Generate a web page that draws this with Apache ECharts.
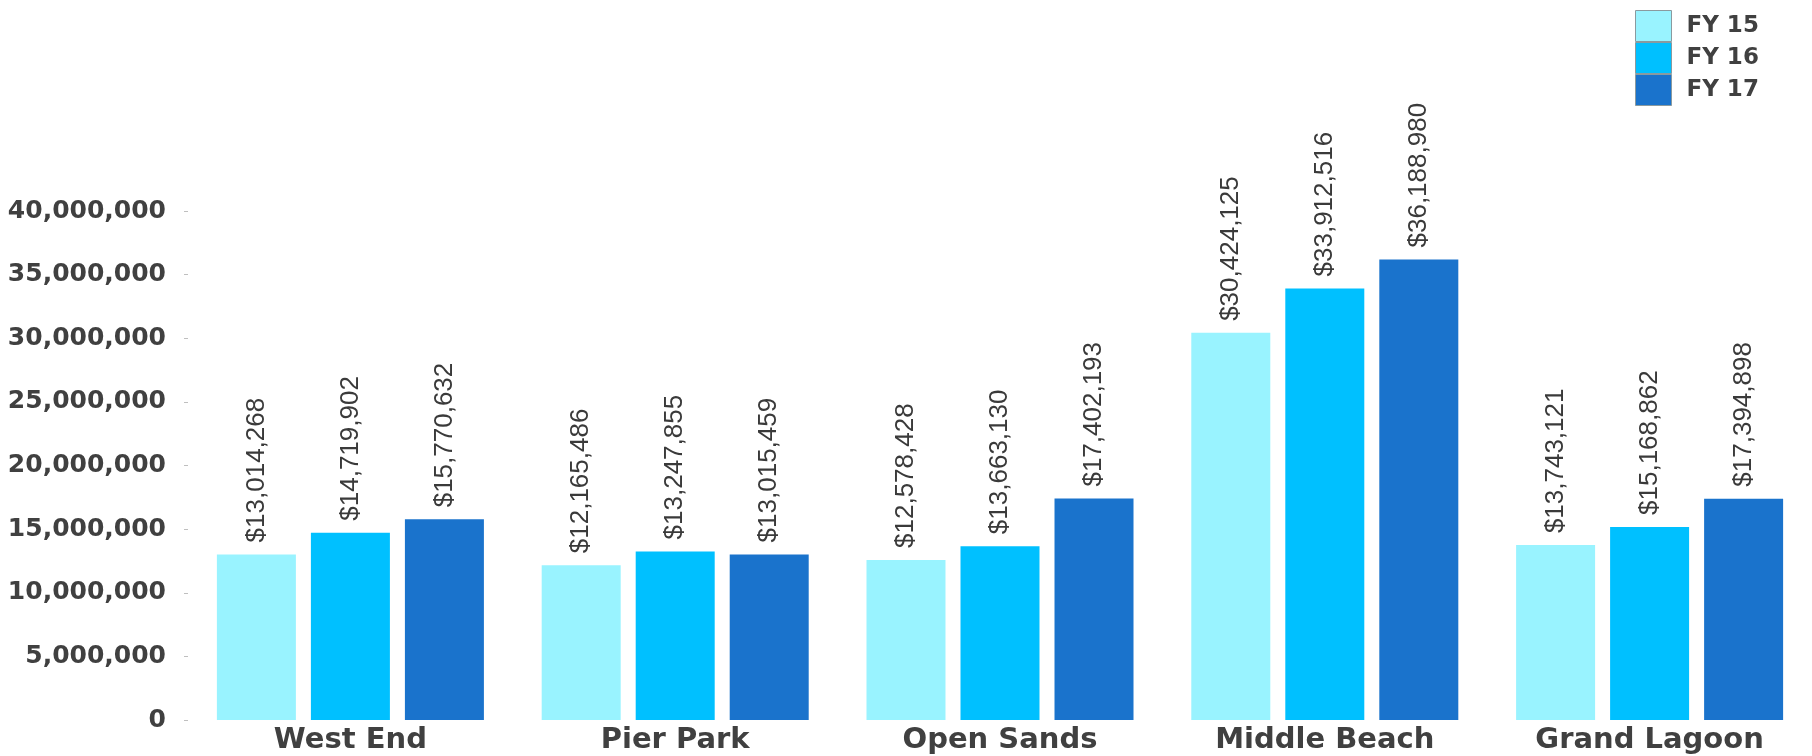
<!DOCTYPE html>
<html>
<head>
<meta charset="utf-8">
<script src="https://cdn.jsdelivr.net/npm/echarts@6/dist/echarts.min.js"></script>
<style>
html,body{margin:0;padding:0;background:#fff;}
#chart{width:1812px;height:756px;}
</style>
</head>
<body>
<div id="chart"></div>
<script>
const categories = ['West End', 'Pier Park', 'Open Sands', 'Middle Beach', 'Grand Lagoon'];
const seriesNames = ['FY 15', 'FY 16', 'FY 17'];
const fy15 = [13014268, 12165486, 12578428, 30424125, 13743121];
const fy16 = [14719902, 13247855, 13663130, 33912516, 15168862];
const fy17 = [15770632, 13015459, 17402193, 36188980, 17394898];
const colors = ['#99F3FF', '#00C0FF', '#1A73CC'];
const yTicks = { min: 0, max: 40000000, interval: 5000000 };

const chart = echarts.init(document.getElementById('chart'));
const fmt = v => Number(v).toLocaleString('en-US');

function mkSeries(name, data, color) {
  return {
    name: name,
    type: 'bar',
    data: data,
    barWidth: 79,
    barGap: '19%',
    itemStyle: { color: color },
    label: {
      show: true,
      position: 'top',
      rotate: 90,
      align: 'left',
      verticalAlign: 'middle',
      distance: 12,
      fontFamily: '"Liberation Sans", Arial, sans-serif',
      fontSize: 26,
      color: '#3a3a3a',
      formatter: p => '$' + fmt(p.value)
    }
  };
}

chart.setOption({
  backgroundColor: '#ffffff',
  animation: false,
  color: colors,
  legend: {
    orient: 'vertical',
    left: 1630,
    top: 5,
    itemWidth: 36,
    itemHeight: 31,
    itemGap: 0,
    icon: 'rect',
    itemStyle: { borderColor: '#8a9a9f', borderWidth: 1 },
    textStyle: {
      fontFamily: 'DejaVu Sans, sans-serif',
      fontWeight: 'bold',
      fontSize: 23,
      color: '#404040',
      padding: [0, 0, 0, 10]
    },
    data: seriesNames
  },
  grid: { left: 188, width: 1650, top: 211, bottom: 36, containLabel: false },
  xAxis: {
    type: 'category',
    data: categories,
    axisLine: { show: false },
    axisTick: { show: false },
    axisLabel: {
      margin: 6,
      fontFamily: 'DejaVu Sans, sans-serif',
      fontWeight: 'bold',
      fontSize: 29,
      color: '#404040'
    }
  },
  yAxis: {
    type: 'value',
    min: yTicks.min,
    max: yTicks.max,
    interval: yTicks.interval,
    axisLine: { show: false },
    axisTick: { show: true, length: 4, lineStyle: { color: '#bfbfbf' } },
    splitLine: { show: false },
    axisLabel: {
      margin: 22,
      fontFamily: 'DejaVu Sans, sans-serif',
      fontWeight: 'bold',
      fontSize: 25,
      color: '#404040',
      formatter: v => fmt(v)
    }
  },
  series: [
    mkSeries(seriesNames[0], fy15, colors[0]),
    mkSeries(seriesNames[1], fy16, colors[1]),
    mkSeries(seriesNames[2], fy17, colors[2])
  ]
});
</script>
</body>
</html>
